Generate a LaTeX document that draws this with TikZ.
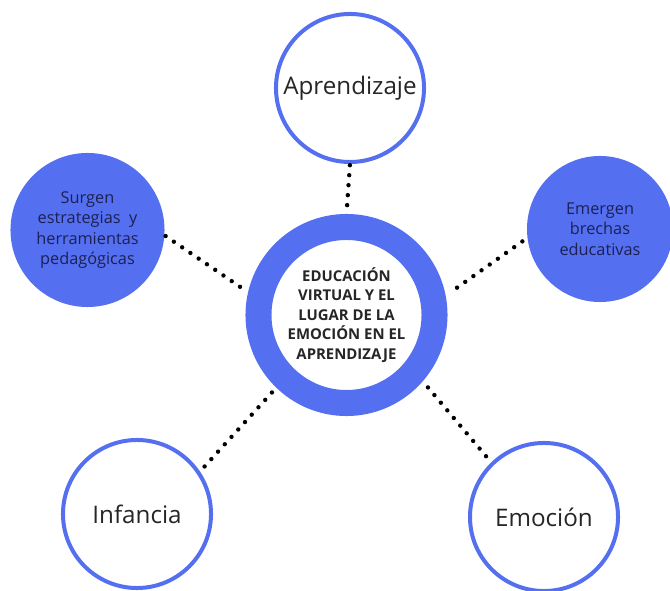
\documentclass[tikz,border=0pt]{standalone}
\usepackage{fontspec}
\setmainfont{Open Sans}
\definecolor{azul}{RGB}{84,112,240}
\definecolor{marino}{RGB}{28,32,84}

\begin{document}
\begin{tikzpicture}[x=0.025cm, y=0.025cm,
  hueco/.style={circle, draw=azul, line width=0.1cm, fill=white, minimum size=3.7cm,
    inner sep=0pt, text=black!85, font=\fontsize{17.2}{20}\selectfont},
  lleno/.style={circle, fill=azul, minimum size=3.85cm, inner sep=0pt, align=center,
    text=marino, font=\fontsize{11.6}{14.6}\selectfont},
  anillo/.style={circle, draw=azul, line width=0.65cm, fill=white, minimum size=4.4cm,
    inner sep=0pt, align=center, text=black!85, font=\bfseries\fontsize{10.6}{13.9}\selectfont},
  puntos/.style={line width=0.11cm, line cap=round, dash pattern=on 0pt off 0.25cm}]

\useasboundingbox (0,0) rectangle (670,591);

\coordinate (c) at (346.5,276);
\coordinate (n) at (350,503);
\coordinate (nw) at (87.5,361);
\coordinate (ne) at (600,362);
\coordinate (sw) at (137,77);
\coordinate (se) at (544,74);

\node [anillo] (anillo) at (c) {EDUCACIÓN\\VIRTUAL Y EL\\LUGAR DE LA\\EMOCIÓN EN EL\\APRENDIZAJE};

\node [hueco] (aprend) at (n) {Aprendizaje};
\node [hueco] (infancia) at (sw) {Infancia};
\node [hueco] (emocion) at (se) {Emoción};

\node [lleno] (surgen) at (nw) {Surgen\\estrategias~ y\\herramientas\\pedagógicas};
\node [lleno, minimum size=3.65cm] (emergen) at (ne) {Emergen\\brechas\\educativas};

% conectores punteados
\foreach \a/\b/\s/\e in {aprend.-90/anillo.90/0.03/0.03,
                         surgen.-4/anillo.167/0.03/0.2,
                         emergen.-173/anillo.11/0.15/0.1,
                         infancia.34/anillo.-134/0.17/0.15,
                         emocion.134/anillo.-41/0.2/0.15}
    \draw [puntos, shorten <=\s cm, shorten >=\e cm] (\a) -- (\b);

\end{tikzpicture}
\end{document}
